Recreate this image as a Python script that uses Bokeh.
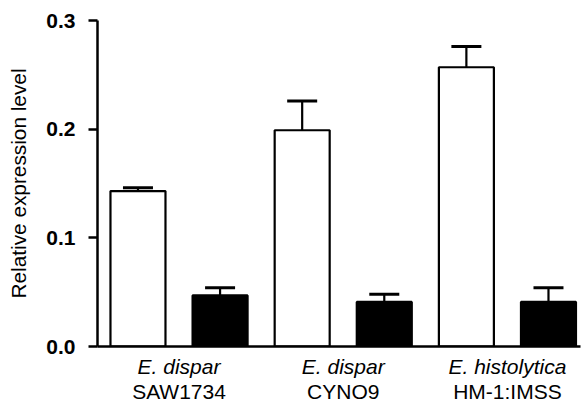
from bokeh.plotting import figure
from bokeh.models import Range1d, FixedTicker, LinearAxis, Whisker, TeeHead, ColumnDataSource
from bokeh.embed import file_html
from bokeh.resources import INLINE

# ---- data ----
species = ["E. dispar", "E. dispar", "E. histolytica"]
strains = ["SAW1734", "CYNO9", "HM-1:IMSS"]
groups = [1, 2, 3]
white_vals = [0.143, 0.199, 0.257]
white_err = [0.003, 0.027, 0.019]
black_vals = [0.047, 0.041, 0.041]
black_err = [0.007, 0.007, 0.013]
y_ticks = [0.0, 0.1, 0.2, 0.3]
y_tick_labels = ["0.0", "0.1", "0.2", "0.3"]

OFFSET = 0.25
BAR_W = 0.335
FONT = "Liberation Sans"

xw = [g - OFFSET for g in groups]
xb = [g + OFFSET for g in groups]

p = figure(width=584, height=405, output_backend="svg", toolbar_location=None,
           x_range=Range1d(0.5035, 3.445), y_range=Range1d(0, 0.3),
           min_border_left=97, min_border_right=4, min_border_top=20, min_border_bottom=57)
p.outline_line_color = None
p.grid.grid_line_color = None
p.background_fill_color = "white"
p.border_fill_color = "white"

src_w = ColumnDataSource(dict(x=xw, top=white_vals,
                              upper=[v + e for v, e in zip(white_vals, white_err)]))
src_b = ColumnDataSource(dict(x=xb, top=black_vals,
                              upper=[v + e for v, e in zip(black_vals, black_err)]))

p.vbar(x="x", top="top", bottom=0, width=BAR_W, source=src_w,
       fill_color="white", line_color="black", line_width=2.2)
p.vbar(x="x", top="top", bottom=0, width=BAR_W, source=src_b,
       fill_color="black", line_color="black", line_width=2.2)

for src in (src_w, src_b):
    w = Whisker(base="x", lower="top", upper="upper", source=src,
                line_color="black", line_width=2.2, lower_head=None,
                upper_head=TeeHead(size=30, line_color="black", line_width=3))
    p.add_layout(w)

# y axis
ya = p.yaxis[0]
ya.ticker = FixedTicker(ticks=y_ticks)
ya.major_label_overrides = {t: l for t, l in zip(y_ticks, y_tick_labels)}
ya.minor_tick_line_color = None
ya.major_tick_in = 0
ya.major_tick_out = 9
ya.major_tick_line_width = 2.5
ya.axis_line_width = 2.5
ya.major_label_text_font = FONT
ya.major_label_text_font_style = "bold"
ya.major_label_text_font_size = "21px"
ya.major_label_text_color = "black"
ya.major_label_standoff = 13
ya.axis_label = "Relative expression level"
ya.axis_label_text_font = FONT
ya.axis_label_text_font_style = "normal"
ya.axis_label_text_font_size = "20.8px"
ya.axis_label_text_color = "black"
ya.axis_label_standoff = 13

# x axis, species (italic)
xa = p.xaxis[0]
xa.ticker = FixedTicker(ticks=groups)
xa.major_label_overrides = {g: s for g, s in zip(groups, species)}
xa.major_tick_line_color = None
xa.minor_tick_line_color = None
xa.axis_line_width = 2.5
xa.major_label_text_font = FONT
xa.major_label_text_font_style = "italic"
xa.major_label_text_font_size = "21px"
xa.major_label_text_color = "black"
xa.major_label_standoff = 2

# second x axis: strains
xa2 = LinearAxis(ticker=FixedTicker(ticks=groups),
                 major_label_overrides={g: s for g, s in zip(groups, strains)})
xa2.axis_line_color = None
xa2.major_tick_line_color = None
xa2.minor_tick_line_color = None
xa2.major_label_text_font = FONT
xa2.major_label_text_font_size = "21px"
xa2.major_label_text_color = "black"
xa2.major_label_standoff = -7
p.add_layout(xa2, "below")

open("out.html", "w").write(file_html(p, INLINE))
